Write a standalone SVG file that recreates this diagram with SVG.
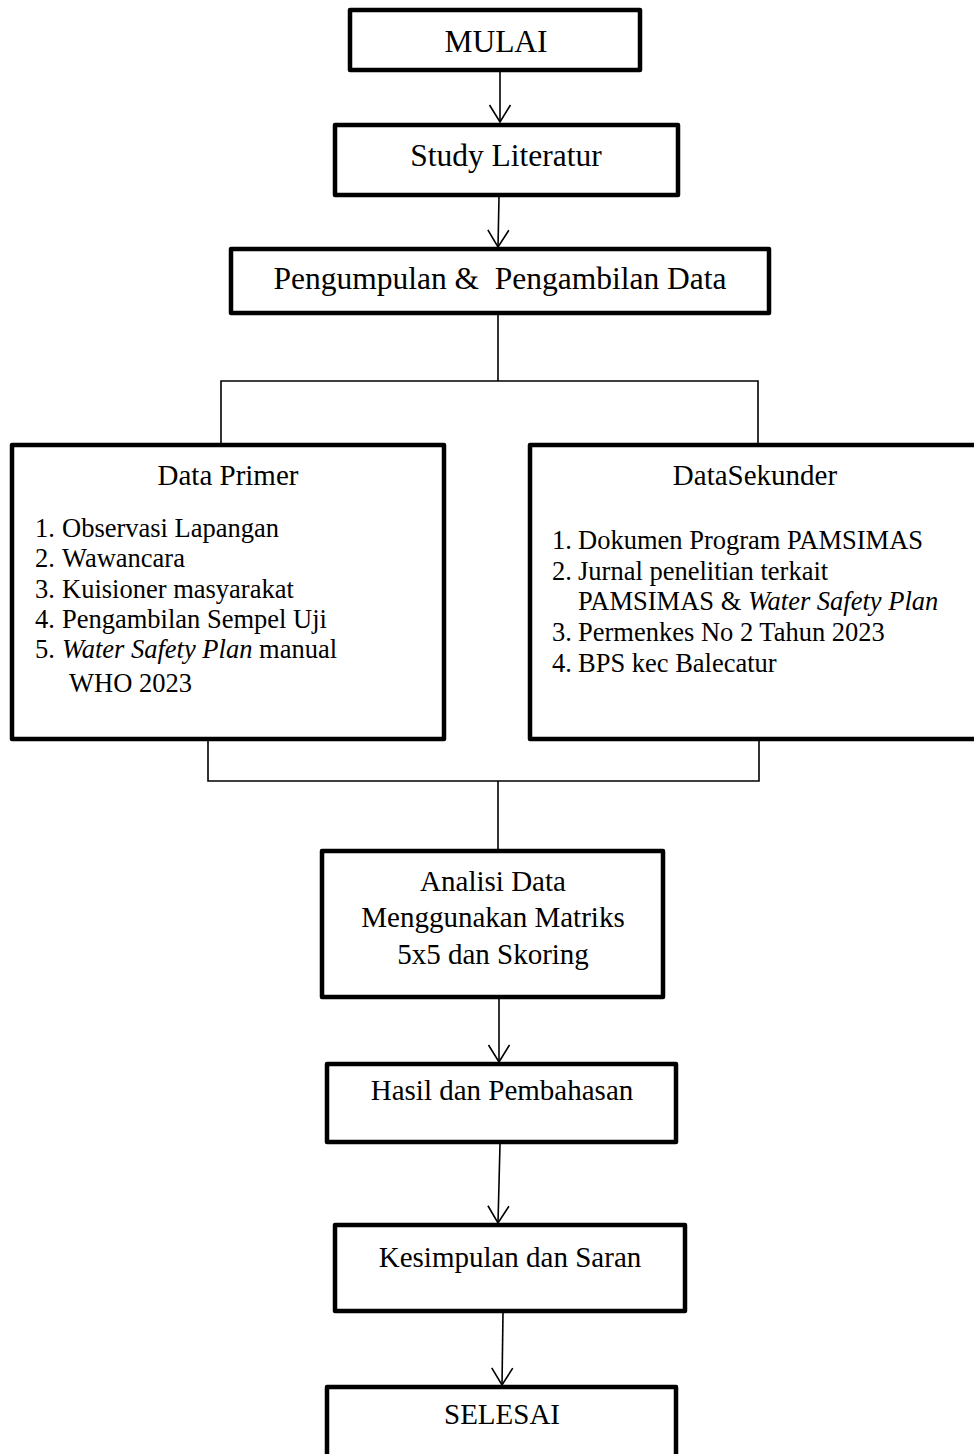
<svg xmlns="http://www.w3.org/2000/svg" width="974" height="1454" viewBox="0 0 974 1454">
<style>
.box{fill:#fff;stroke:#000;stroke-width:4.5;stroke-linejoin:round}
.ln{fill:none;stroke:#000;stroke-width:1.6}
text{font-family:"Liberation Serif","Times New Roman",serif;fill:#000}
.big{font-size:31.5px;text-anchor:middle}
.t{font-size:29px;text-anchor:middle}
.li{font-size:26.5px}
.it{font-style:italic}
</style>
<defs>
<marker id="ah" markerUnits="userSpaceOnUse" markerWidth="40" markerHeight="40" refX="0" refY="0" orient="auto" overflow="visible">
<path d="M-17,-10.5 L0,0 L-17,10.5" fill="none" stroke="#000" stroke-width="1.6"/>
</marker>
</defs>
<rect width="974" height="1454" fill="#fff"/>
<g id="connectors">
<line class="ln" x1="500" y1="72" x2="500" y2="122" marker-end="url(#ah)"/>
<line class="ln" x1="499" y1="197" x2="498" y2="247" marker-end="url(#ah)"/>
<polyline class="ln" points="498,315 498,381"/>
<polyline class="ln" points="221,443 221,381 758,381 758,443"/>
<polyline class="ln" points="208,741 208,781 759,781 759,741"/>
<polyline class="ln" points="498,781 498,849"/>
<line class="ln" x1="499" y1="999" x2="499" y2="1062" marker-end="url(#ah)"/>
<line class="ln" x1="500" y1="1144" x2="498" y2="1223" marker-end="url(#ah)"/>
<line class="ln" x1="503" y1="1313" x2="502" y2="1385" marker-end="url(#ah)"/>
</g>
<g id="mulai">
<rect class="box" x="350" y="10" width="290" height="60"/>
<text class="big" x="496" y="52">MULAI</text>
</g>
<g id="study">
<rect class="box" x="335" y="125" width="343" height="70"/>
<text class="big" x="506" y="166">Study Literatur</text>
</g>
<g id="pengumpulan">
<rect class="box" x="231" y="249" width="538" height="64"/>
<text class="big" x="500" y="289" xml:space="preserve">Pengumpulan &amp;  Pengambilan Data</text>
</g>
<g id="primer">
<rect class="box" x="12" y="445" width="432" height="294"/>
<text class="t" x="228" y="485">Data Primer</text>
<text class="li" x="35" y="537">1.</text><text class="li" x="62" y="537">Observasi Lapangan</text>
<text class="li" x="35" y="567">2.</text><text class="li" x="62" y="567">Wawancara</text>
<text class="li" x="35" y="598">3.</text><text class="li" x="62" y="598">Kuisioner masyarakat</text>
<text class="li" x="35" y="628">4.</text><text class="li" x="62" y="628">Pengambilan Sempel Uji</text>
<text class="li" x="35" y="658">5.</text><text class="li" x="62" y="658"><tspan class="it">Water Safety Plan</tspan> manual</text>
<text class="li" x="69" y="692">WHO 2023</text>
</g>
<g id="sekunder">
<rect class="box" x="530" y="445" width="452" height="294"/>
<text class="t" x="755" y="485">DataSekunder</text>
<text class="li" x="552" y="549">1.</text><text class="li" x="578" y="549">Dokumen Program PAMSIMAS</text>
<text class="li" x="552" y="580">2.</text><text class="li" x="578" y="580">Jurnal penelitian terkait</text>
<text class="li" x="578" y="610">PAMSIMAS &amp; <tspan class="it">Water Safety Plan</tspan></text>
<text class="li" x="552" y="641">3.</text><text class="li" x="578" y="641">Permenkes No 2 Tahun 2023</text>
<text class="li" x="552" y="672">4.</text><text class="li" x="578" y="672">BPS kec Balecatur</text>
</g>
<g id="analisi">
<rect class="box" x="322" y="851" width="341" height="146"/>
<text class="t" x="493" y="891">Analisi Data</text>
<text class="t" x="493" y="927">Menggunakan Matriks</text>
<text class="t" x="493" y="964">5x5 dan Skoring</text>
</g>
<g id="hasil">
<rect class="box" x="327" y="1064" width="349" height="78"/>
<text class="t" x="502" y="1100">Hasil dan Pembahasan</text>
</g>
<g id="kesimpulan">
<rect class="box" x="335" y="1225" width="350" height="86"/>
<text class="t" x="510" y="1267">Kesimpulan dan Saran</text>
</g>
<g id="selesai">
<rect class="box" x="327" y="1387" width="349" height="90"/>
<text class="t" x="502" y="1424">SELESAI</text>
</g>
</svg>
